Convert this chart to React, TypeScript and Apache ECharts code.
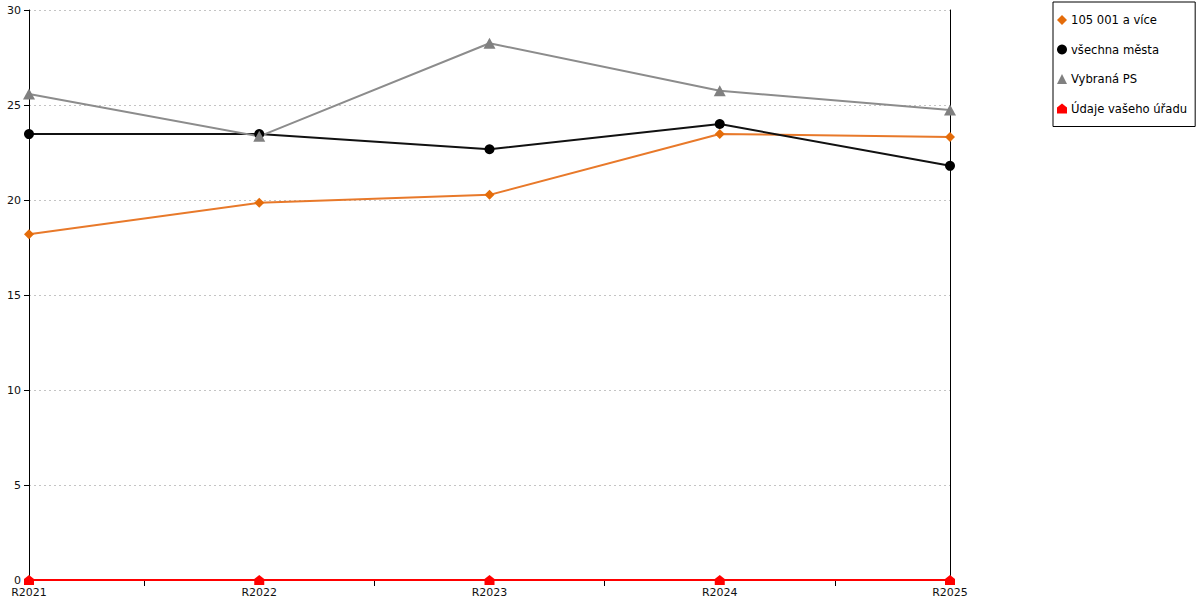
import React, { useEffect, useRef } from "react";
import * as echarts from "echarts";

const categories = ["R2021", "R2022", "R2023", "R2024", "R2025"];
const seriesNames = ["105 001 a více", "všechna města", "Vybraná PS", "Údaje vašeho úřadu"];
const bigCities = [18.2, 19.85, 20.27, 23.47, 23.32];
const allCities = [23.47, 23.47, 22.67, 24.0, 21.8];
const selectedPS = [25.58, 23.35, 28.25, 25.75, 24.74];
const yourOffice = [0, 0, 0, 0, 0];
const yTicks = [0, 5, 10, 15, 20, 25, 30];

const FONT = "DejaVu Sans";
const HOUSE = "path://M5,0 L10,4 L10,10 L0,10 L0,4 Z";

export default function App() {
  const ref = useRef<HTMLDivElement>(null);
  useEffect(() => {
    const chart = echarts.init(ref.current!, null, { renderer: "svg" });
    const midTicks = categories.slice(1).map((_, i) => i + 0.5);
    chart.setOption({
      animation: false,
      backgroundColor: "#fff",
      textStyle: { fontFamily: FONT },
      grid: { left: 29, right: 250, top: 10, bottom: 20, containLabel: false },
      legend: {
        orient: "vertical",
        left: 1053,
        top: 2,
        padding: [11, 8, 11, 4],
        itemGap: 15.5,
        itemWidth: 10,
        itemHeight: 10,
        borderColor: "#000",
        borderWidth: 1,
        textStyle: { fontFamily: FONT, fontSize: 11.6, color: "#000", lineHeight: 14, padding: [0, 0, 0, -1] },
        data: [
          { name: seriesNames[0], icon: "diamond" },
          { name: seriesNames[1], icon: "circle" },
          { name: seriesNames[2], icon: "triangle" },
          { name: seriesNames[3], icon: HOUSE },
        ],
      },
      xAxis: [
        {
          type: "category",
          data: categories,
          boundaryGap: false,
          axisLine: { show: true, lineStyle: { color: "#000", width: 1 } },
          axisTick: { show: false },
          axisLabel: { color: "#111", fontSize: 11, fontFamily: FONT, margin: 7 },
          splitLine: { show: false },
        },
        {
          type: "value",
          min: 0,
          max: categories.length - 1,
          position: "bottom",
          axisLine: { show: false },
          axisLabel: { show: false },
          splitLine: { show: false },
          axisTick: { show: true, length: 6, customValues: midTicks, lineStyle: { color: "#000" } },
        },
      ],
      yAxis: [
        {
          type: "value",
          min: yTicks[0],
          max: yTicks[yTicks.length - 1],
          interval: 5,
          axisLine: { show: true, lineStyle: { color: "#000", width: 1 } },
          axisTick: { show: true, length: 5, lineStyle: { color: "#000" } },
          axisLabel: { color: "#111", fontSize: 11, fontFamily: FONT, margin: 8 },
          splitLine: { show: true, lineStyle: { color: "#c4c4c4", type: [2, 3], width: 1 } },
        },
        {
          type: "value",
          min: yTicks[0],
          max: yTicks[yTicks.length - 1],
          interval: 5,
          position: "right",
          axisLine: { show: true, lineStyle: { color: "#000", width: 1 } },
          axisTick: { show: false },
          axisLabel: { show: false },
          splitLine: { show: false },
        },
      ],
      series: [
        {
          name: seriesNames[0],
          type: "line",
          data: bigCities,
          symbol: "diamond",
          symbolSize: 10,
          itemStyle: { color: "#E46C0A" },
          lineStyle: { color: "#E8792A", width: 2 },
        },
        {
          name: seriesNames[1],
          type: "line",
          data: allCities,
          symbol: "circle",
          symbolSize: 10,
          itemStyle: { color: "#000" },
          lineStyle: { color: "#111", width: 2 },
        },
        {
          name: seriesNames[2],
          type: "line",
          data: selectedPS,
          symbol: "triangle",
          symbolSize: [12, 11],
          itemStyle: { color: "#808080" },
          lineStyle: { color: "#8c8c8c", width: 2 },
        },
        {
          name: seriesNames[3],
          type: "line",
          data: yourOffice,
          symbol: HOUSE,
          symbolSize: [10, 10],
          itemStyle: { color: "#ff0000" },
          lineStyle: { color: "#ff0000", width: 2 },
        },
      ],
    });
    return () => chart.dispose();
  }, []);
  return <div ref={ref} style={{ position: "fixed", left: 0, top: 0, width: 1200, height: 600 }} />;
}
